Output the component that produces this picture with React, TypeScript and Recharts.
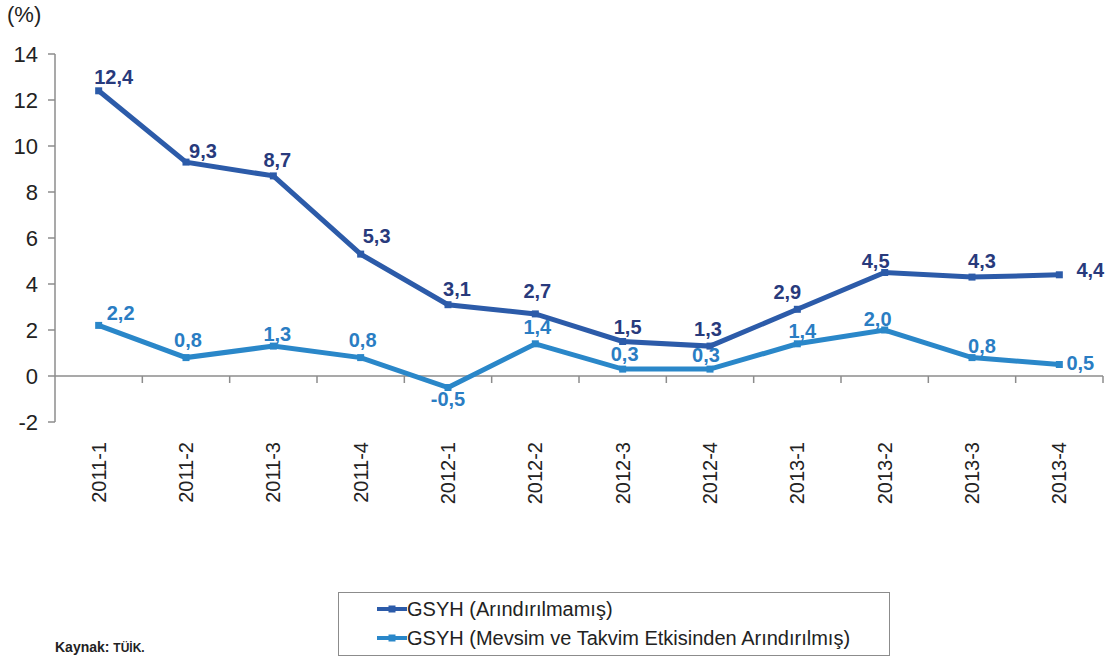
import { LineChart, Line, XAxis, YAxis, ReferenceLine } from 'recharts'

const quarters = ['2011-1', '2011-2', '2011-3', '2011-4', '2012-1', '2012-2',
  '2012-3', '2012-4', '2013-1', '2013-2', '2013-3', '2013-4']
const unadjusted = [12.4, 9.3, 8.7, 5.3, 3.1, 2.7, 1.5, 1.3, 2.9, 4.5, 4.3, 4.4]
const adjusted = [2.2, 0.8, 1.3, 0.8, -0.5, 1.4, 0.3, 0.3, 1.4, 2.0, 0.8, 0.5]
const yTicks = [-2, 0, 2, 4, 6, 8, 10, 12, 14]

const data = quarters.map((q, i) => ({ q, a: unadjusted[i], b: adjusted[i] }))

// label nudges (dx, dy) relative to the point
const darkOff = [[15, -12], [17, -10], [4, -14], [16, -17], [9, -14], [2, -21],
  [5, -13], [-2, -16], [-10, -16], [-9, -10], [10, -15], [31, -3]]
const lightOff = [[22, -11], [2, -16], [4, -11], [2, -16], [0, 13], [2, -15],
  [2, -14], [-4, -13], [5, -11], [-7, -10], [10, -10], [21, 0]]

const FONT = '"Liberation Sans", Arial, Helvetica, sans-serif'
const DARK = '#2c5ba9'
const DARK_LBL = '#283a7c'
const LIGHT = '#2a87c9'
const LIGHT_LBL = '#2a7dc3'
const AXIS = '#8c8c8c'

const W = 1114, H = 658
const XH = 100
const M = { top: 54, right: 11, bottom: 236 - XH, left: 0 }
const YW = 55
const plotW = W - M.left - M.right - YW
const plotH = H - M.top - M.bottom - XH
const bw = plotW / quarters.length
const zeroDrop = plotH * 2 / 16
const TM = 20

const fmt = (v: number) => v.toFixed(1).replace('.', ',')

const makeLabel = (off: number[][], color: string) => (p: any) => {
  const o = off[p.index] || [0, -12]
  return (
    <text key={p.index} x={p.x + o[0]} y={p.y + o[1] - 1.5} fill={color} fontSize={20}
      fontWeight={700} fontFamily={FONT} textAnchor='middle' dominantBaseline='central'>
      {fmt(p.value)}
    </text>
  )
}

const squareDot = (color: string) => (p: any) => (
  <rect key={p.index} x={p.cx - 3.5} y={p.cy - 3.5} width={7} height={7} fill={color} />
)

const XTick = (p: any) => {
  const zeroY = p.y - TM - zeroDrop
  return (
    <g>
      <line x1={p.x + bw / 2} x2={p.x + bw / 2} y1={zeroY} y2={zeroY + 7}
        stroke={AXIS} strokeWidth={1.5} />
      <text x={p.x} y={p.y} transform={`rotate(-90, ${p.x}, ${p.y})`} textAnchor='end'
        dominantBaseline='central' fontSize={20} fill='#222' fontFamily={FONT}>
        {p.payload.value}
      </text>
    </g>
  )
}

export default function App() {
  return (
    <div style={{ position: 'fixed', left: 0, top: 0, width: W, height: H, overflow: 'hidden',
      background: 'white', fontFamily: FONT }}>
      <div style={{ position: 'absolute', left: 7, top: 2, fontSize: 22, color: '#222' }}>(%)</div>
      <LineChart width={W} height={H} data={data} margin={M}>
        <XAxis dataKey='q' axisLine={false} tickLine={false} tickSize={0} tickMargin={TM}
          interval={0} tick={<XTick />} height={XH} padding={{ left: bw / 2, right: bw / 2 }} />
        <YAxis domain={[-2, 14]} ticks={yTicks} width={YW} interval={0}
          axisLine={{ stroke: AXIS, strokeWidth: 1.5 }} tickLine={{ stroke: AXIS, strokeWidth: 1.5 }}
          tickSize={7} tickMargin={10}
          tick={{ fontSize: 22, fill: '#222', fontFamily: FONT }} />
        <ReferenceLine y={0} stroke={AXIS} strokeWidth={1.5} />
        <Line dataKey='a' stroke={DARK} strokeWidth={5} isAnimationActive={false}
          dot={squareDot(DARK)} label={makeLabel(darkOff, DARK_LBL)} />
        <Line dataKey='b' stroke={LIGHT} strokeWidth={5} isAnimationActive={false}
          dot={squareDot(LIGHT)} label={makeLabel(lightOff, LIGHT_LBL)} />
      </LineChart>
      <div style={{ position: 'absolute', left: 338, top: 592, width: 552, height: 64,
        border: '1.5px solid #8c8c8c', boxSizing: 'border-box', fontSize: 20, color: '#222' }}>
        {[['GSYH (Arındırılmamış)', DARK], ['GSYH (Mevsim ve Takvim Etkisinden Arındırılmış)', LIGHT]]
          .map(([t, c], i) => (
            <div key={i} style={{ position: 'absolute', left: 38, top: 3 + i * 29,
              display: 'flex', alignItems: 'center', height: 26 }}>
              <svg width={30} height={10}>
                <line x1={0} x2={30} y1={5} y2={5} stroke={c} strokeWidth={4} />
                <rect x={11.5} y={1.5} width={7} height={7} fill={c} />
              </svg>
              <span>{t}</span>
            </div>
          ))}
      </div>
      <div style={{ position: 'absolute', left: 55, top: 639, fontSize: 14, fontWeight: 700,
        color: '#222' }}>
        Kaynak: <span style={{ fontSize: 12 }}>TÜİK.</span>
      </div>
    </div>
  )
}
